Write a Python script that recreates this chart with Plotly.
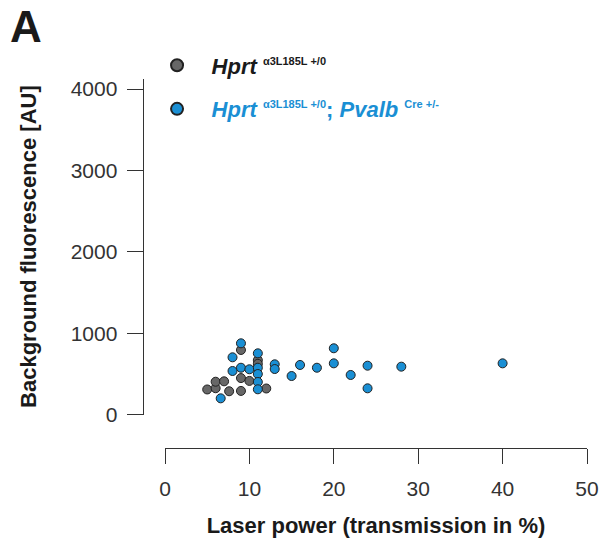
import plotly.graph_objects as go

# Data
ctrl_x = [5, 6, 6, 7, 7.6, 9, 9, 9, 10, 11, 11, 12]
ctrl_y = [310, 325, 405, 410, 288, 292, 450, 795, 415, 670, 625, 322]

cre_x = [6.6, 8, 8, 9, 9, 10, 11, 11, 11, 11, 11, 13, 13, 15, 16, 18, 20, 20, 22, 24, 24, 28, 40]
cre_y = [201, 705, 537, 877, 577, 558, 754, 577, 500, 402, 312, 619, 561, 475, 611, 577, 816, 631, 488, 602, 324, 590, 631]

x_ticks = [0, 10, 20, 30, 40, 50]
y_ticks = [0, 1000, 2000, 3000, 4000]

GRAY = "#676767"
BLUE = "#1a8fd4"
EDGE = "#222222"
FONT = "Liberation Sans, Arial, sans-serif"

sup_style = "font-size:11px"
name_ctrl = ("<b><i>Hprt</i> </b><sup><b><span style='%s'>α3L185L +/0</span></b></sup>" % sup_style)
name_cre = ("<span style='color:%s'><b><i>Hprt</i> </b><sup><b><span style='%s'>α3L185L +/0</span></b></sup>"
            "<b>; <i>Pvalb</i> </b><sup><b><span style='%s'>Cre +/-</span></b></sup></span>" % (BLUE, sup_style, sup_style))

fig = go.Figure()
fig.add_trace(go.Scatter(
    x=ctrl_x, y=ctrl_y, mode="markers", name=name_ctrl, legendgroup="a",
    marker=dict(size=9, color=GRAY, line=dict(color=EDGE, width=1)),
    cliponaxis=False,
))
fig.add_trace(go.Scatter(
    x=cre_x, y=cre_y, mode="markers", name=name_cre, legendgroup="b",
    marker=dict(size=9, color=BLUE, line=dict(color=EDGE, width=1)),
    cliponaxis=False,
))

fig.update_layout(
    width=603, height=547,
    margin=dict(l=0, r=0, t=0, b=0, autoexpand=False),
    paper_bgcolor="white", plot_bgcolor="white",
    font=dict(family=FONT, size=21, color="#333333"),
    showlegend=True,
    legend=dict(
        x=0.2364, y=0.9187, xanchor="left", yanchor="top",
        font=dict(family=FONT, size=22, color="#1a1a1a"),
        bgcolor="rgba(0,0,0,0)", tracegroupgap=12,
        itemsizing="constant", itemwidth=59,
    ),
    xaxis=dict(
        domain=[165 / 603, 587 / 603], range=[0, 50],
        anchor="free", position=1 - 447.7 / 547,
        tickvals=x_ticks, ticks="outside", ticklen=15, tickwidth=1.3, tickcolor="#333333",
        showline=True, linecolor="#333333", linewidth=1.3,
        showgrid=False, zeroline=False, ticklabelstandoff=7,
        tickfont=dict(family=FONT, size=21, color="#333333"),
        title=dict(text="<b>Laser power (transmission in %)</b>", standoff=18,
                   font=dict(family=FONT, size=22, color="#1a1a1a")),
        automargin=False,
    ),
    yaxis=dict(
        domain=[1 - 414.7 / 547, 1 - 78.5 / 547], range=[0, 4130],
        anchor="free", position=142.7 / 603,
        tickvals=y_ticks, ticks="outside", ticklen=16, tickwidth=1.3, tickcolor="#333333",
        showline=True, linecolor="#333333", linewidth=1.3,
        showgrid=False, zeroline=False, ticklabelstandoff=5,
        tickfont=dict(family=FONT, size=21, color="#333333"),
        title=dict(text="<b>Background fluorescence [AU]</b>", standoff=26,
                   font=dict(family=FONT, size=22, color="#1a1a1a")),
        automargin=False,
    ),
    annotations=[dict(
        text="<b>A</b>", xref="paper", yref="paper", x=0.014, y=1.0,
        xanchor="left", yanchor="top", showarrow=False,
        font=dict(family=FONT, size=44, color="#1a1a1a"),
    )],
)

fig.write_html("out.html", config={"displayModeBar": False},
               post_script="document.body.style.margin='0';")
